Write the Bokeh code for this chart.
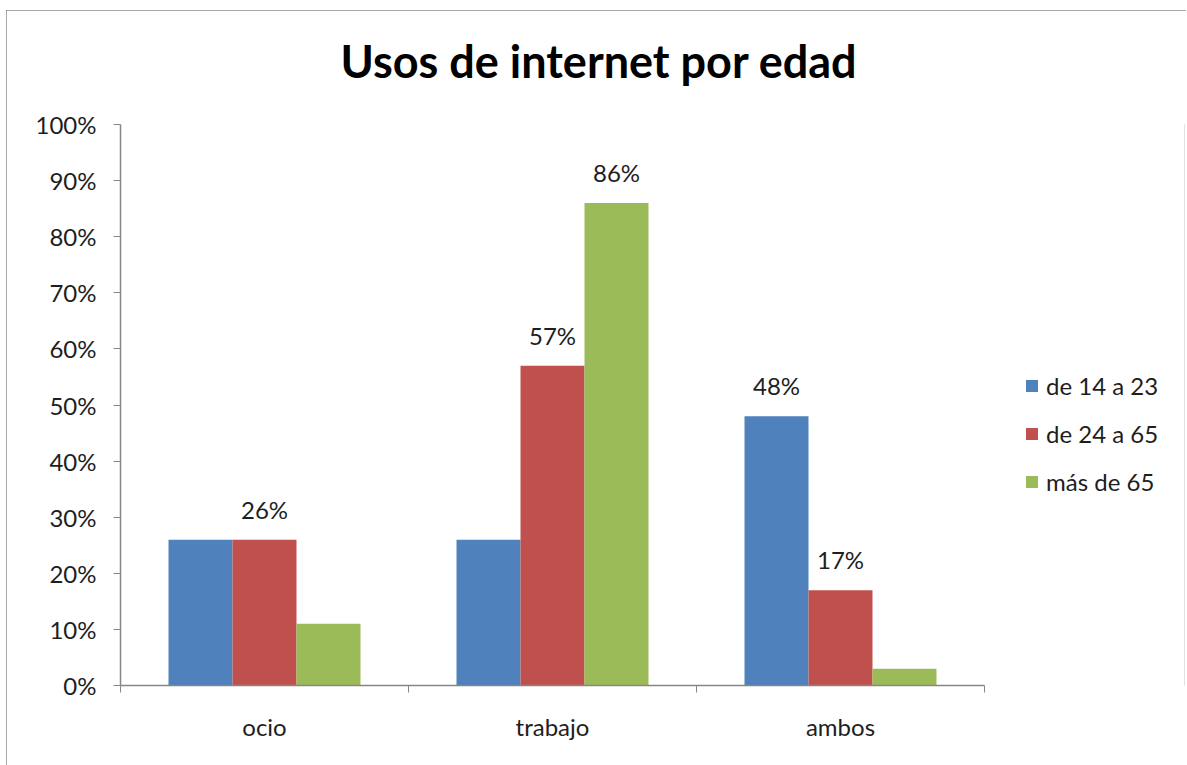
from bokeh.plotting import figure
from bokeh.models import ColumnDataSource, FixedTicker, PrintfTickFormatter, Range1d, Legend, LegendItem, Title
from bokeh.transform import dodge
from bokeh.core.properties import value
from bokeh.embed import file_html
from bokeh.resources import INLINE

categories = ["ocio", "trabajo", "ambos"]
series_names = ["de 14 a 23", "de 24 a 65", "más de 65"]
vals_14_23 = [26, 26, 48]
vals_24_65 = [26, 57, 17]
vals_mas_65 = [11, 86, 3]
labels_14_23 = ["", "", "48%"]
labels_24_65 = ["26%", "57%", "17%"]
labels_mas_65 = ["", "86%", ""]
colors = ["#4F81BD", "#C0504D", "#9BBB59"]
y_ticks = list(range(0, 101, 10))

FONT = "Lato"
TXT = "#1e1e1e"
AX = "#868686"
FS = "24px"

W, H = 1180, 755
BL, BR, BT, BB = 114, 2, 113, 80
cat_px = 288  # pixel width of one category slot
frame_w = W - BL - BR
n = len(categories)
x_end = frame_w / cat_px  # extra room right of the categories holds the legend

xc = [i + 0.5 for i in range(n)]
src = ColumnDataSource(dict(x=xc, a=vals_14_23, b=vals_24_65, c=vals_mas_65,
                            la=labels_14_23, lb=labels_24_65, lc=labels_mas_65))

p = figure(width=W, height=H, output_backend="svg", toolbar_location=None,
           x_range=Range1d(0, x_end), y_range=Range1d(0, 100),
           min_border_left=BL, min_border_right=BR, min_border_top=BT, min_border_bottom=BB)
p.styles = {"outline": "2px solid #8c8c8c", "outline-offset": "-2px",
            "margin-left": "6px", "margin-top": "10px"}
p.outline_line_color = None
p.grid.visible = False
p.background_fill_color = "white"
p.border_fill_color = "white"

bw = 2.0 / 9.0
offs = [-bw, 0.0, bw]
items = []
for key, lab, col, off, name in zip(["a", "b", "c"], ["la", "lb", "lc"], colors, offs, series_names):
    r = p.vbar(x=dodge("x", off), top=key, width=bw, bottom=0, source=src,
               fill_color=col, line_color=None)
    items.append(LegendItem(label=name, renderers=[r]))
    p.text(x=dodge("x", off), y=key, text=lab, source=src, text_align="center",
           text_baseline="bottom", y_offset=-16, text_font=value(FONT),
           text_font_size=FS, text_color=TXT)

# axes
xa = p.xaxis[0]
xa.bounds = (0, n)
xa.ticker = FixedTicker(ticks=xc, minor_ticks=list(range(n + 1)))
xa.major_label_overrides = {x: c for x, c in zip(xc, categories)}
xa.major_tick_out = 0
xa.major_tick_in = 0
xa.minor_tick_out = 7
xa.minor_tick_in = 0
xa.minor_tick_line_color = AX
xa.axis_line_color = AX
xa.axis_line_width = 1.5
xa.major_label_standoff = 19
xa.major_label_text_font = FONT
xa.major_label_text_font_size = FS
xa.major_label_text_color = TXT

ya = p.yaxis[0]
ya.ticker = FixedTicker(ticks=y_ticks, minor_ticks=[])
ya.formatter = PrintfTickFormatter(format="%d%%")
ya.major_tick_out = 7
ya.major_tick_in = 0
ya.minor_tick_out = 0
ya.major_tick_line_color = AX
ya.axis_line_color = AX
ya.axis_line_width = 1.5
ya.major_label_standoff = 17
ya.major_label_text_font = FONT
ya.major_label_text_font_size = FS
ya.major_label_text_color = TXT

p.title = Title(text="Usos de internet por edad", align="left", offset=220,
                text_font=FONT, text_font_size="45px", text_font_style="bold",
                text_color="#000000", standoff=42,
                padding=dict(left=0, right=0, top=0, bottom=16))

legend = Legend(items=items, location=(904, 189), orientation="vertical",
                border_line_color=None, background_fill_alpha=0,
                label_text_font=FONT, label_text_font_size=FS, label_text_color=TXT,
                glyph_width=15, glyph_height=15, spacing=19, label_standoff=7,
                margin=0, padding=10)
p.add_layout(legend, "center")

open("out.html", "w").write(file_html(p, INLINE))
